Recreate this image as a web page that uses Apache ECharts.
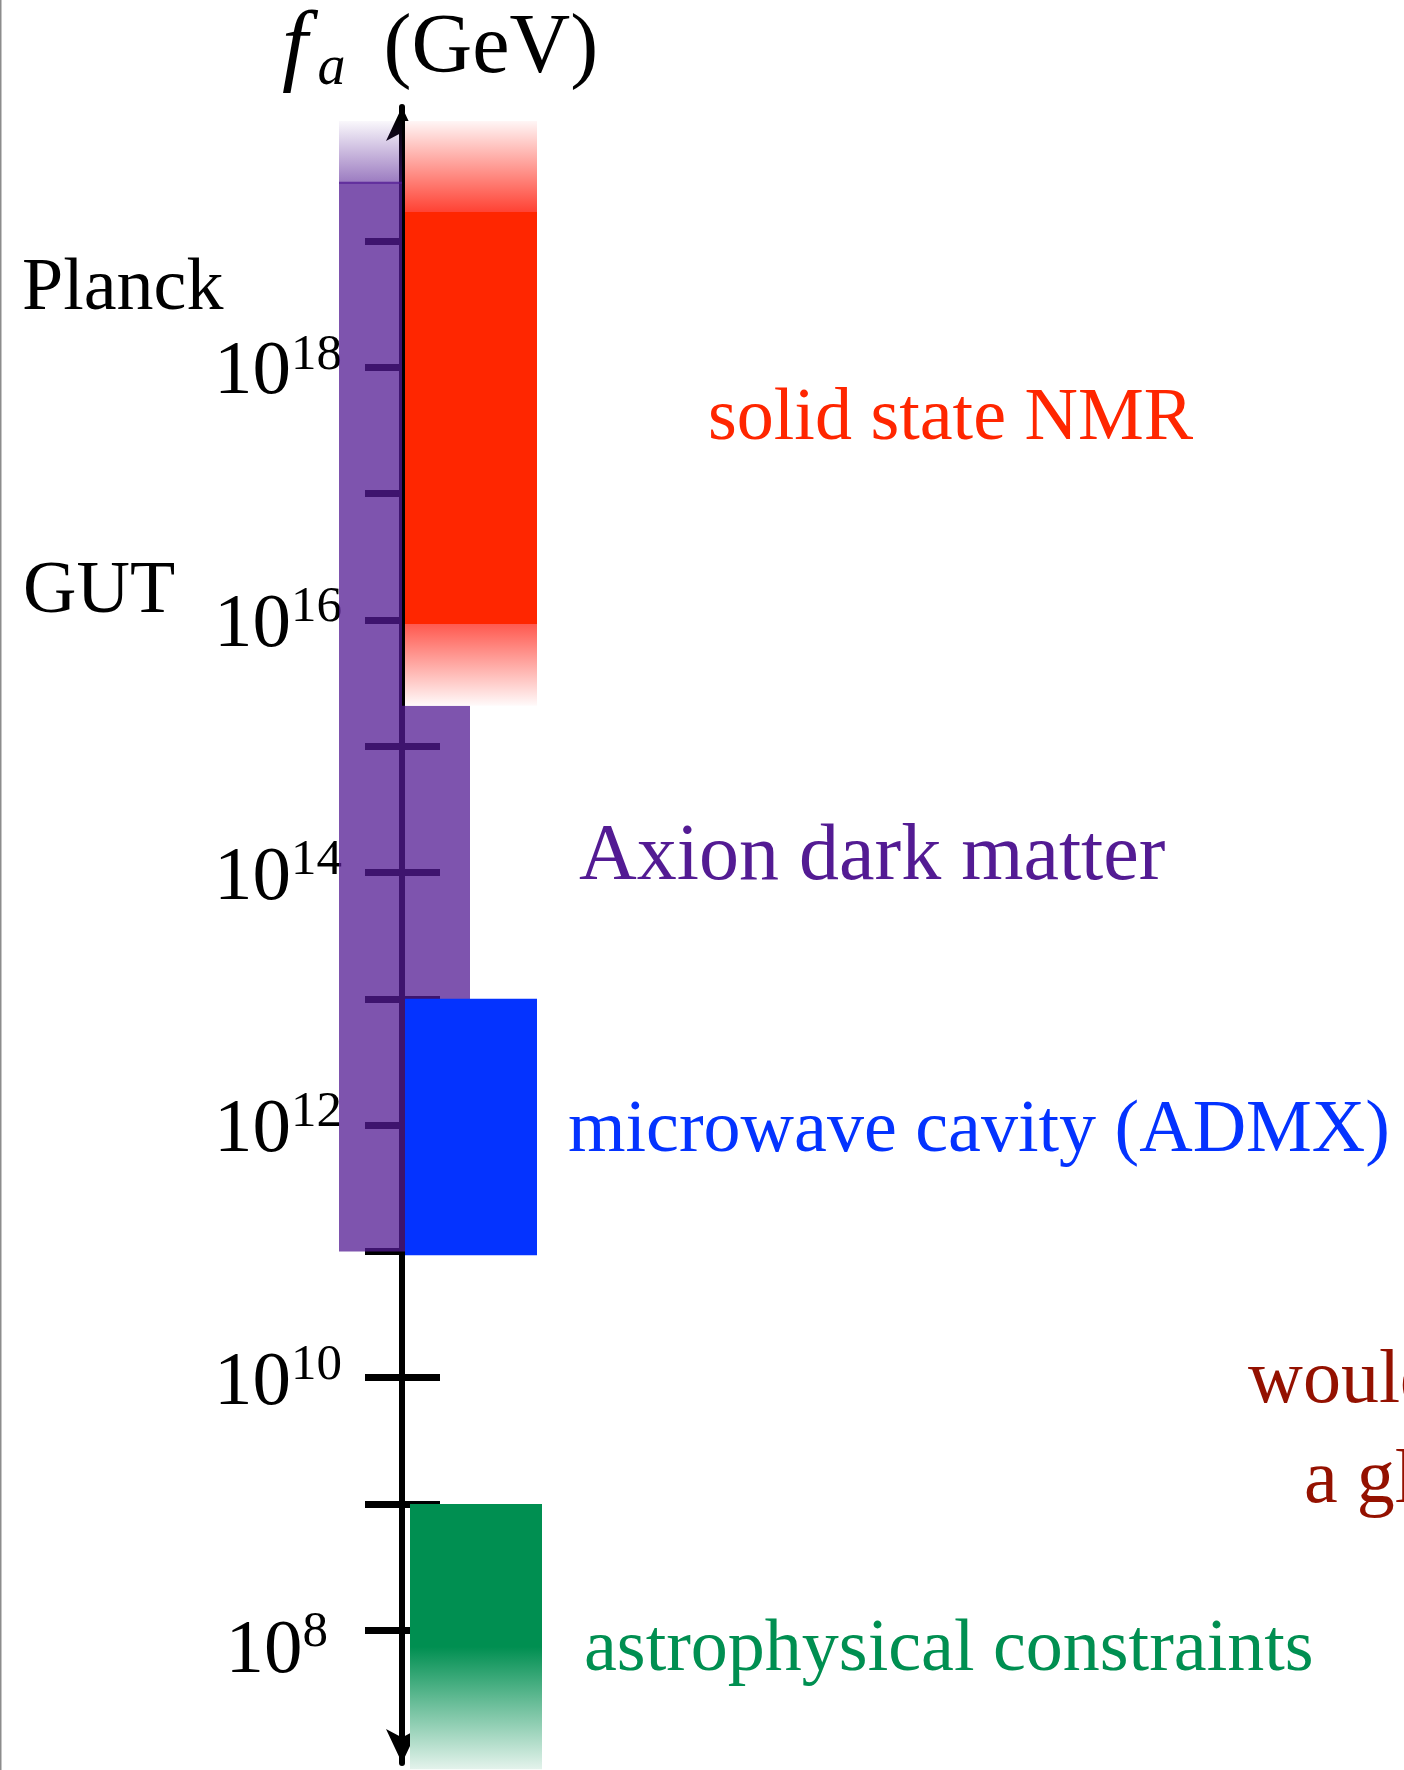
<!DOCTYPE html>
<html>
<head>
<meta charset="utf-8">
<title>f_a (GeV)</title>
<script src="https://cdn.jsdelivr.net/npm/echarts@6/dist/echarts.min.js"></script>
<style>
  html, body { margin: 0; padding: 0; background: #fff; }
  #chart { width: 1404px; height: 1770px; }
</style>
</head>
<body>
<div id="chart"></div>
<script>
// all ranges are log10(f_a / GeV)
const axisRange = [6.95, 20.06];
const tickValues = [8, 9, 10, 11, 12, 13, 14, 15, 16, 17, 18, 19];
const tickExps = [8, 10, 12, 14, 16, 18];
const axionLeft = [11, 19.46];
const axionRight = [11, 15.32];
const axionFadeTop = [19.46, 19.95];
// [fade bottom, solid bottom, solid top, fade top]
const nmrRange = [15.32, 15.97, 19.23, 19.95];
const admxRange = [10.97, 13];
const astroRange = [6.9, 7.87, 9, 9];

const SERIF = 'Liberation Serif';
const GRAPE = '#531b93';
const RED = '#ff2600';
const BLUE = '#0433ff';
const GREEN = '#008f51';
const CAYENNE = '#941100';

// column offsets (px) relative to the axis line
const COLS = {
    left: [-63, 0],
    right: [0, 68],
    exp: [3, 135],
    astro: [8, 140]
};

function grad(stops) {
    return new echarts.graphic.LinearGradient(0, 0, 0, 1, stops.map(s => ({offset: s[0], color: s[1]})));
}

// solid band with faded ends, one rect so there is no seam
function fadedFill(r, color, topFade, botFade) {
    const span = r[3] - r[0];
    const a = (r[3] - r[2]) / span;
    const b = (r[3] - r[1]) / span;
    const stops = [];
    if (a > 0) stops.push([0, topFade[0]], [a, topFade[1]]);
    stops.push([a, color], [b, color]);
    if (b < 1) stops.push([b, botFade[0]], [1, botFade[1]]);
    return () => grad(stops);
}

function band(col, fill, edge) {
    return function (params, api) {
        const n = params.dimensionNames ? 0 : 0;
        const hiIdx = api.value(3) != null && !isNaN(api.value(3)) ? 3 : 1;
        const top = api.coord([0, api.value(hiIdx)]);
        const bot = api.coord([0, api.value(0)]);
        const x0 = top[0] + COLS[col][0];
        const w = COLS[col][1] - COLS[col][0];
        const children = [{
            type: 'rect',
            shape: {x: x0, y: top[1], width: w, height: bot[1] - top[1]},
            style: {fill: typeof fill === 'function' ? fill() : fill}
        }];
        if (edge) {
            children.push({
                type: 'line',
                shape: {x1: x0, y1: bot[1], x2: x0 + w, y2: bot[1]},
                style: {stroke: edge, lineWidth: 2}
            });
        }
        return {type: 'group', children};
    };
}

function bandSeries(range, col, fill, edge) {
    return {
        type: 'custom',
        renderItem: band(col, fill, edge),
        dimensions: range.map((v, i) => 'v' + i),
        encode: {y: range.map((v, i) => i)},
        data: [range],
        clip: false,
        silent: true
    };
}

const chart = echarts.init(document.getElementById('chart'));

const tickRich = {
    b: {fontFamily: SERIF, fontSize: 77, lineHeight: 77, verticalAlign: 'middle', padding: [12, 0, 0, 0], color: '#000'},
    s: {fontFamily: SERIF, fontSize: 51, lineHeight: 77, verticalAlign: 'middle', padding: [0, 0, 24, 0], color: '#000'},
    b8: {fontFamily: SERIF, fontSize: 77, lineHeight: 77, verticalAlign: 'middle', padding: [42, 0, 0, 0], color: '#000'},
    s8: {fontFamily: SERIF, fontSize: 51, lineHeight: 77, verticalAlign: 'middle', padding: [4, 0, 0, 0], color: '#000'},
    sp: {width: 14, lineHeight: 77}
};

const yBase = {
    type: 'value',
    min: axisRange[0],
    max: axisRange[1],
    position: 'left',
    splitLine: {show: false}
};

function txt(x, y, text, size, color) {
    return {
        type: 'text', x: x, y: y,
        style: {text: text, font: size + 'px "' + SERIF + '"', fill: color, verticalAlign: 'middle'}
    };
}

const option = {
    animation: false,
    backgroundColor: '#fff',
    grid: {left: 402, top: 107, width: 900, bottom: 7, outerBoundsMode: 'none'},
    xAxis: {type: 'value', min: 0, max: 1, show: false},
    yAxis: [
        Object.assign({}, yBase, {
            axisLine: {
                show: true,
                lineStyle: {color: '#000', width: 6},
                symbol: ['arrow', 'arrow'],
                symbolSize: [24, 34],
                symbolOffset: [0, 0]
            },
            axisTick: {show: true, inside: false, length: 37, customValues: tickValues, lineStyle: {color: '#000', width: 7}},
            axisLabel: {
                margin: 60,
                customValues: tickExps,
                rich: tickRich,
                formatter: function (v) {
                    if (v === 8) return '{b8|10}{s8|8}{sp| }';
                    return '{b|10}{s|' + v + '}';
                }
            }
        }),
        Object.assign({}, yBase, {
            axisLine: {show: false},
            axisTick: {show: true, inside: true, length: 38, customValues: tickValues, lineStyle: {color: '#000', width: 7}},
            axisLabel: {show: false}
        })
    ],
    series: [
        bandSeries(axionLeft, 'left', 'rgba(83,27,147,0.75)'),
        bandSeries(axionRight, 'right', 'rgba(83,27,147,0.75)'),
        bandSeries(axionFadeTop, 'left',
            () => grad([[0, 'rgba(83,27,147,0.03)'], [1, 'rgba(83,27,147,0.58)']]),
            'rgba(83,27,147,0.8)'),
        bandSeries(nmrRange, 'exp',
            fadedFill(nmrRange, RED, ['rgb(255,246,246)', 'rgb(255,66,52)'], ['rgb(255,88,78)', 'rgb(255,250,250)'])),
        bandSeries(admxRange, 'exp', BLUE),
        bandSeries(astroRange, 'astro',
            fadedFill(astroRange, GREEN, null, [GREEN, 'rgb(228,243,236)']))
    ],
    graphic: [
        {type: 'rect', left: 0, top: 0, shape: {width: 1.5, height: 1770}, style: {fill: '#8c8c8c'}},
        {
            type: 'text', x: 282, y: 50,
            style: {
                text: '{f|f}{a|a}{g|(GeV)}',
                verticalAlign: 'middle',
                rich: {
                    f: {fontFamily: SERIF, fontStyle: 'italic', fontSize: 92, lineHeight: 84, verticalAlign: 'middle', color: '#000'},
                    a: {fontFamily: SERIF, fontStyle: 'italic', fontSize: 56, lineHeight: 84, verticalAlign: 'middle', color: '#000', padding: [39, 0, 0, 10]},
                    g: {fontFamily: SERIF, fontSize: 84, lineHeight: 84, verticalAlign: 'middle', color: '#000', padding: [0, 0, 0, 38]}
                }
            }
        },
        txt(22, 290, 'Planck', 74, '#000'),
        txt(23, 593, 'GUT', 74, '#000'),
        txt(708, 420, 'solid state NMR', 74, RED),
        txt(579, 858, 'Axion dark matter', 80, GRAPE),
        txt(568, 1132, 'microwave cavity (ADMX)', 74, BLUE),
        txt(1248, 1382, 'would', 76, CAYENNE),
        txt(1304, 1482, 'a global', 76, CAYENNE),
        txt(584, 1651, 'astrophysical constraints', 74, GREEN)
    ]
};

chart.setOption(option);
</script>
</body>
</html>
